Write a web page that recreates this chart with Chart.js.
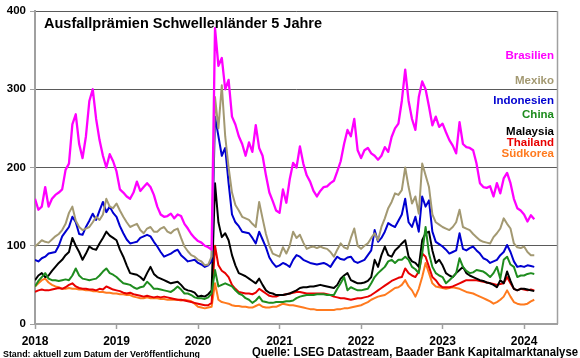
<!DOCTYPE html>
<html><head><meta charset="utf-8">
<script src="https://cdn.jsdelivr.net/npm/chart.js@4/dist/chart.umd.min.js"></script>
<style>html,body{margin:0;padding:0;background:#fff}canvas{display:block}</style>
</head><body>
<canvas id="c" width="580" height="358"></canvas>
<script>
// ---- data (semi-monthly readings, first point = start of 2018) ----
const startYear = 2018;
const pointsPerYear = 24;
const xTickValues = [2018, 2019, 2020, 2021, 2022, 2023, 2024];
const yTickValues = [0, 100, 200, 300, 400];
const seriesNames = ['Brasilien', 'Mexiko', 'Indonesien', 'China', 'Malaysia', 'Thailand', 'Südkorea'];
const titleText = 'Ausfallprämien Schwellenländer 5 Jahre';
const footLeft = 'Stand: aktuell zum Datum der Veröffentlichung';
const footRight = 'Quelle: LSEG Datastream, Baader Bank Kapitalmarktanalyse';

const brasilien = [
160,146,150,175,150,160,165,168,172,197,205,255,
268,230,212,240,285,300,262,235,215,200,217,208,
195,172,168,163,160,168,182,170,175,180,175,165,
150,140,137,138,141,135,140,138,128,122,115,110,
106,104,100,98,95,378,330,340,300,312,265,255,
240,230,215,232,220,254,225,215,190,168,157,145,
142,172,155,185,206,200,227,205,190,182,170,163,
170,175,176,180,183,195,208,230,248,240,262,222,
212,222,225,218,215,210,215,226,220,239,250,256,
285,325,285,262,248,290,310,300,278,254,265,252,
256,245,235,228,218,258,230,226,225,222,205,180,
175,174,176,163,180,167,186,193,180,160,148,145,
140,131,139,134];

const mexiko = [
99,103,107,105,104,108,112,115,120,128,142,150,
132,124,120,122,124,130,137,133,140,160,150,148,
154,145,137,130,124,126,128,120,116,122,124,118,
118,122,124,118,116,120,122,110,99,93,88,86,
82,80,75,76,86,290,250,305,240,200,168,152,
145,137,135,133,128,124,156,135,115,100,90,88,
86,98,90,100,118,110,114,104,96,98,99,97,
99,97,96,92,86,95,103,98,96,110,122,100,
96,100,103,110,116,107,124,135,148,156,167,165,
171,200,175,154,163,141,205,190,175,140,130,127,
124,122,120,124,130,146,124,122,120,115,111,107,
105,104,103,111,116,122,135,128,122,103,98,97,
99,92,88,88];

const indonesien = [
82,80,84,86,90,91,92,100,112,118,124,137,
130,115,114,124,132,141,133,145,156,143,150,142,
137,125,116,108,103,104,105,110,112,114,112,105,
99,92,86,88,90,93,95,88,84,80,81,82,
78,76,73,75,80,265,240,215,225,180,140,130,
125,118,117,116,110,103,118,108,98,85,78,73,
75,78,76,73,82,88,86,82,80,78,77,76,
77,78,76,73,80,86,83,82,85,86,80,78,
80,82,88,94,120,105,110,118,129,126,124,132,
140,160,130,124,137,118,163,150,158,118,105,102,
99,95,90,92,94,116,96,94,97,99,94,90,
84,82,78,80,82,88,92,101,92,80,73,74,
73,75,74,73];

const china = [
48,55,60,65,58,56,56,55,56,57,56,62,
71,62,58,57,56,57,58,62,67,71,65,63,
60,56,52,51,50,47,45,47,48,54,50,45,
45,44,43,42,41,44,48,44,39,39,37,34,
33,33,32,34,39,69,48,50,52,50,48,43,
39,37,33,31,27,30,35,29,28,27,27,28,
28,28,29,29,30,33,35,36,37,37,37,38,
38,38,37,37,37,45,52,60,43,47,45,43,
43,44,45,52,60,65,69,73,80,82,78,82,
82,86,82,73,70,65,90,124,90,73,65,62,
60,52,56,60,65,84,73,68,65,66,69,68,
67,64,60,65,73,58,82,86,76,73,60,62,
62,64,65,64];

const malaysia = [
56,62,65,60,62,68,73,78,82,88,92,110,
100,92,82,90,99,96,95,103,110,118,113,110,
107,95,86,75,65,64,63,60,56,65,73,64,
60,58,56,54,52,53,54,50,45,43,42,40,
35,36,35,38,43,180,130,111,116,107,88,75,
65,63,61,58,55,52,58,50,43,40,39,37,
37,37,38,39,41,43,46,47,47,48,48,49,
50,49,48,47,46,50,58,62,65,56,54,52,
52,53,55,60,82,73,88,99,88,86,94,98,
103,107,86,80,78,73,107,116,118,94,78,82,
75,65,62,60,65,69,73,65,62,60,58,56,
55,53,52,50,47,56,52,67,55,45,43,45,
45,44,43,42];

const thailand = [
41,43,44,43,43,44,45,46,45,47,50,52,
48,46,45,45,44,44,43,45,44,48,46,44,
43,42,40,39,40,38,37,36,35,36,35,34,
35,34,35,34,33,32,31,31,30,29,28,27,
26,25,24,24,27,100,75,68,65,60,50,45,
41,40,39,39,38,40,45,42,39,36,35,35,
37,37,38,39,40,41,41,40,39,39,39,39,
39,39,38,37,35,34,33,33,32,31,32,33,
33,34,35,37,40,43,46,49,52,55,57,59,
60,71,65,62,60,67,90,86,73,60,56,50,
47,47,47,48,50,52,54,56,56,56,56,55,
54,53,52,51,50,51,52,60,52,45,43,45,
44,43,44,43];

const suedkorea = [
48,52,56,58,53,50,48,47,45,45,46,45,
45,44,44,43,43,42,42,41,41,40,40,39,
39,38,38,37,37,35,34,33,33,34,33,33,
33,32,32,31,31,31,31,30,31,30,29,26,
22,21,20,21,22,52,31,28,27,26,24,23,
23,22,22,21,21,23,25,22,21,21,22,22,
24,26,25,24,24,23,22,21,20,19,19,18,
18,18,18,18,18,19,19,20,20,21,22,23,
24,26,28,31,33,35,36,37,40,43,46,47,
50,56,48,43,35,45,60,78,65,52,48,47,
46,45,46,47,46,45,43,41,40,39,37,35,
33,31,29,26,28,31,35,43,35,28,26,25,
25,26,29,31];

// ---- styling ----
const seriesValues = [brasilien, mexiko, indonesien, china, malaysia, thailand, suedkorea];
const seriesColors = ['#FF00FF', '#A39972', '#0000D0', '#1E8C1E', '#000000', '#E80000', '#FF7A1E'];
const legendY = [56, 81, 101, 115, 132, 143, 154];

const dates = brasilien.map((_, i) => startYear + i / pointsPerYear);

const datasets = seriesNames.map((name, k) => ({
  label: name,
  data: seriesValues[k].map((v, i) => ({ x: dates[i], y: v })),
  borderColor: seriesColors[k],
  backgroundColor: seriesColors[k],
  borderWidth: k === 0 ? 2.3 : 2,
  pointRadius: 0,
  tension: 0,
  fill: false,
  borderJoinStyle: 'round'
}));

const FONT = '"Liberation Sans", Arial, sans-serif';

function fitText(ctx, text, x, y, width, align) {
  const w = ctx.measureText(text).width;
  const s = Math.min(1.15, width / w);
  ctx.save();
  ctx.translate(x, y);
  ctx.scale(s, 1);
  ctx.textAlign = align;
  ctx.fillText(text, 0, 0);
  ctx.restore();
}

const decor = {
  id: 'decor',
  afterDraw(chart) {
    const ctx = chart.ctx;
    const a = chart.chartArea;
    ctx.save();
    // right frame line
    ctx.strokeStyle = '#A0A0A0';
    ctx.lineWidth = 1.5;
    ctx.beginPath();
    ctx.moveTo(a.right, a.top);
    ctx.lineTo(a.right, a.bottom);
    ctx.stroke();
    // title
    ctx.fillStyle = '#000';
    ctx.textBaseline = 'alphabetic';
    ctx.textAlign = 'left';
    ctx.font = 'bold 14.5px ' + FONT;
    ctx.fillText(titleText, 44, 28);
    // legend labels
    ctx.font = 'bold 11.5px ' + FONT;
    ctx.textAlign = 'right';
    ctx.textBaseline = 'middle';
    seriesNames.forEach((n, k) => {
      ctx.fillStyle = seriesColors[k];
      ctx.fillText(n, 554, legendY[k]);
    });
    // footer
    ctx.fillStyle = '#000';
    ctx.textBaseline = 'alphabetic';
    ctx.font = 'bold 9px ' + FONT;
    fitText(ctx, footLeft, 3, 357, 197, 'left');
    ctx.font = 'bold 12px ' + FONT;
    fitText(ctx, footRight, 578, 356, 326, 'right');
    ctx.restore();
  }
};

new Chart(document.getElementById('c'), {
  type: 'line',
  data: { datasets },
  options: {
    responsive: false,
    animation: false,
    events: [],
    layout: { padding: { left: 0, right: 22.5, top: 11, bottom: 0 } },
    plugins: { legend: { display: false }, tooltip: { enabled: false }, title: { display: false } },
    scales: {
      x: {
        type: 'linear',
        min: 2018,
        max: 2024.41,
        afterBuildTicks: s => { s.ticks = xTickValues.map(v => ({ value: v })); },
        afterFit: s => { s.height = 34; },
        grid: { display: true, drawOnChartArea: false, drawTicks: true, tickLength: 5, tickColor: '#A0A0A0', tickWidth: 1.5 },
        border: { display: true, color: '#A0A0A0', width: 2 },
        ticks: { color: '#000', font: { family: FONT, size: 12, weight: 'bold' }, padding: 5, maxRotation: 0, autoSkip: false, callback: v => String(v) }
      },
      y: {
        min: 0,
        max: 400,
        afterBuildTicks: s => { s.ticks = yTickValues.map(v => ({ value: v })); },
        afterFit: s => { s.width = 35; },
        grid: { display: true, drawOnChartArea: true, color: ctx => ctx.tick && ctx.tick.value === 0 ? 'rgba(0,0,0,0)' : '#5A5A5A', lineWidth: 1, drawTicks: true, tickLength: 5, tickColor: '#A0A0A0' },
        border: { display: true, color: '#A0A0A0', width: 2 },
        ticks: { color: '#000', font: { family: FONT, size: 11.5, weight: 'bold' }, padding: 4, callback: v => String(v) }
      }
    }
  },
  plugins: [decor]
});
</script>
</body></html>
